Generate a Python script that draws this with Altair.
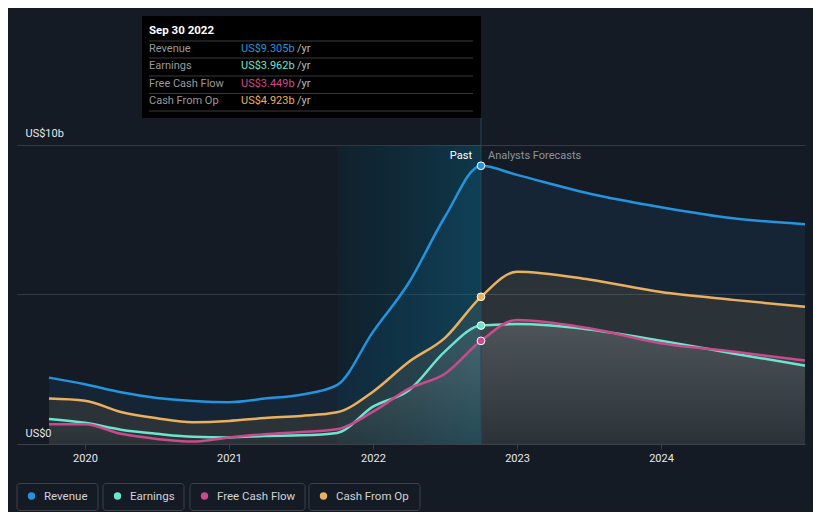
import altair as alt
import pandas as pd

# ---------------- data ----------------
SERIES = ["Revenue", "Earnings", "Free Cash Flow", "Cash From Op"]

past_t = [2019.75, 2020.0, 2020.25, 2020.5, 2020.75, 2021.0, 2021.25,
          2021.5, 2021.75, 2022.0, 2022.25, 2022.5, 2022.75]
fc_t = [2023.0, 2023.5, 2024.0, 2024.5, 2025.0]

revenue_past = [2.22, 2.00, 1.73, 1.54, 1.44, 1.40, 1.52, 1.65, 1.97, 3.75, 5.40, 7.60, 9.305]
earnings_past = [0.84, 0.71, 0.48, 0.34, 0.24, 0.22, 0.27, 0.29, 0.37, 1.25, 1.80, 3.10, 3.962]
fcf_past = [0.66, 0.66, 0.34, 0.17, 0.08, 0.22, 0.33, 0.40, 0.49, 1.08, 1.85, 2.35, 3.449]
cfo_past = [1.52, 1.45, 1.07, 0.86, 0.73, 0.77, 0.87, 0.94, 1.06, 1.75, 2.75, 3.55, 4.923]

revenue_fc = [9.00, 8.38, 7.92, 7.55, 7.35]
earnings_fc = [4.01, 3.83, 3.45, 3.03, 2.62]
fcf_fc = [4.15, 3.87, 3.37, 3.09, 2.79]
cfo_fc = [5.76, 5.50, 5.08, 4.82, 4.59]

PAST_DATE = 2022.75
PAST_LABEL = "Sep 30 2022"
HIGHLIGHT_START = 2021.75
YEAR_TICKS = [2020, 2021, 2022, 2023, 2024]
Y_TICKS = [0, 5, 10]

# ---------------- styles / layout ----------------
COLORS = {"Revenue": "#2394df", "Earnings": "#6ce5cc",
          "Free Cash Flow": "#c94b8d", "Cash From Op": "#ebb05e"}
BG = "#151b25"
W, H = 788, 428
X_DOMAIN = [2019.528, 2025.0]
Y_MAX = 14.314
FONT = "Roboto"

series_data = {
    "Revenue": revenue_past + revenue_fc,
    "Earnings": earnings_past + earnings_fc,
    "Free Cash Flow": fcf_past + fcf_fc,
    "Cash From Op": cfo_past + cfo_fc,
}
all_t = past_t + fc_t
rows = []
for s in SERIES:
    for t, v in zip(all_t, series_data[s]):
        rows.append({"t": t, "v": v, "series": s})
df = pd.DataFrame(rows)

xscale = alt.Scale(domain=X_DOMAIN, nice=False, zero=False)
yscale = alt.Scale(domain=[0, Y_MAX], nice=False, zero=True)
xaxis = alt.Axis(values=YEAR_TICKS, format="d", grid=False, domainColor="#3b4049",
                 tickColor="#3b4049", tickSize=5, labelColor="#e8e8e8", labelFontSize=11,
                 labelFont=FONT, labelPadding=3, title="")
yaxis = alt.Axis(values=Y_TICKS,
                 labelExpr="datum.value == 0 ? 'US$0' : datum.value == 10 ? 'US$10b' : ''",
                 grid=True, gridColor="#343a43", domain=False, ticks=False, tickSize=0,
                 labelAlign="left", labelPadding=-8, labelBaseline="alphabetic", labelOffset=-8,
                 labelColor="#e8e8e8", labelFontSize=11, labelFont=FONT,
                 minExtent=0, maxExtent=0, title="")


def X(f):
    return alt.X(f, type="quantitative", scale=xscale, axis=xaxis)


def Y(f):
    return alt.Y(f, type="quantitative", scale=yscale, axis=yaxis)


layers = []

# highlight region of the last past year
hl_df = pd.DataFrame({"x0": [HIGHLIGHT_START], "x1": [PAST_DATE], "y0": [0], "y1": [10]})
hl_grad = alt.Gradient(gradient="linear", x1=0, x2=1, y1=0, y2=0, stops=[
    alt.GradientStop(color="rgba(0,50,66,0.25)", offset=0),
    alt.GradientStop(color="rgba(0,118,150,0.32)", offset=1)])
layers.append(alt.Chart(hl_df).mark_rect(color=hl_grad).encode(
    x=X("x0"), x2="x1", y=Y("y0"), y2="y1"))

# areas
white_grad = alt.Gradient(gradient="linear", x1=1, x2=1, y1=0, y2=1, stops=[
    alt.GradientStop(color="rgba(255,255,255,0.085)", offset=0),
    alt.GradientStop(color="rgba(255,255,255,0.0)", offset=1)])
area_style = {
    "Revenue": dict(color=COLORS["Revenue"], opacity=0.09),
    "Cash From Op": dict(color=COLORS["Cash From Op"], opacity=0.10),
    "Earnings": dict(color=white_grad),
    "Free Cash Flow": dict(color=white_grad),
}
for s in ["Revenue", "Cash From Op", "Earnings", "Free Cash Flow"]:
    layers.append(alt.Chart(df).transform_filter(alt.datum.series == s)
                  .mark_area(interpolate="monotone", **area_style[s])
                  .encode(x=X("t"), y=Y("v")))

# lines
for s in ["Revenue", "Cash From Op", "Earnings", "Free Cash Flow"]:
    layers.append(alt.Chart(df).transform_filter(alt.datum.series == s)
                  .mark_line(interpolate="monotone", color=COLORS[s], strokeWidth=2.5)
                  .encode(x=X("t"), y=Y("v")))

# vertical "now" line
now_df = pd.DataFrame({"t": [PAST_DATE]})
layers.append(alt.Chart(now_df).mark_rule(color="#27475a", strokeWidth=1).encode(
    x=X("t"), y=alt.value(102), y2=alt.value(H)))

# points at the past/forecast boundary
pts = df[df["t"] == PAST_DATE].copy()
layers.append(alt.Chart(pts).mark_point(filled=True, size=60, stroke="#ffffff",
                                         strokeWidth=1, opacity=1, fillOpacity=1).encode(
    x=X("t"), y=Y("v"),
    fill=alt.Color("series:N", scale=alt.Scale(domain=list(COLORS), range=list(COLORS.values())),
                   legend=None)))

# Past / Analysts Forecasts labels
layers.append(alt.Chart(now_df).mark_text(text="Past", align="right", baseline="middle",
                                           dx=-9, color="#ffffff", fontSize=11, font=FONT).encode(
    x=X("t"), y=alt.value(140)))
layers.append(alt.Chart(now_df).mark_text(text="Analysts Forecasts", align="left",
                                           baseline="middle", dx=7, color="#8d939b",
                                           fontSize=11, font=FONT).encode(
    x=X("t"), y=alt.value(140)))

# tooltip box
one = pd.DataFrame({"a": [0]})
layers.append(alt.Chart(one).mark_rect(color="#000000").encode(
    x=alt.value(125), x2=alt.value(464), y=alt.value(0), y2=alt.value(102)))
layers.append(alt.Chart(one).mark_text(text=PAST_LABEL, align="left", baseline="middle",
                                       color="#ffffff", fontSize=11.5, fontWeight="bold",
                                       font=FONT).encode(x=alt.value(132), y=alt.value(15)))
sep_df = pd.DataFrame({"yy": [25, 42, 60, 77.5, 95]})
layers.append(alt.Chart(sep_df).mark_rule(color="#3a3a3a", strokeWidth=1).encode(
    y=alt.Y("yy:Q", scale=None), x=alt.value(132), x2=alt.value(456)))

tt_rows = []
row_y = [33, 50.3, 68.3, 85.3]
for i, s in enumerate(SERIES):
    v = series_data[s][len(past_t) - 1]
    tt_rows.append({"label": s, "val": f"US${v:.3f}b", "col": COLORS[s], "yy": row_y[i]})
tt_df = pd.DataFrame(tt_rows)
layers.append(alt.Chart(tt_df).mark_text(align="left", baseline="middle", fontSize=11,
                                         font=FONT, color="#9a9a9a").encode(
    x=alt.value(132), y=alt.Y("yy:Q", scale=None), text="label:N"))
layers.append(alt.Chart(tt_df).mark_text(align="left", baseline="middle", fontSize=11,
                                         font=FONT).encode(
    x=alt.value(224), y=alt.Y("yy:Q", scale=None), text="val:N",
    color=alt.Color("col:N", scale=None)))
layers.append(alt.Chart(tt_df).mark_text(align="left", baseline="middle", fontSize=11,
                                         font=FONT, color="#bdbdbd", text="/yr").encode(
    x=alt.value(280), y=alt.Y("yy:Q", scale=None)))

# custom legend
leg_x0 = [0, 86, 173, 292]
leg_x1 = [81, 167, 288, 403]
leg_rows = []
for i, s in enumerate(SERIES):
    leg_rows.append({"series": s, "bx0": leg_x0[i], "bx1": leg_x1[i],
                     "cx": leg_x0[i] + 14.5, "tx": leg_x0[i] + 27, "col": COLORS[s]})
leg_df = pd.DataFrame(leg_rows)
layers.append(alt.Chart(leg_df).mark_rect(fill=BG, stroke="#3c414a", strokeWidth=1,
                                          cornerRadius=3).encode(
    x=alt.X("bx0:Q", scale=None), x2="bx1", y=alt.value(467.5), y2=alt.value(494.5)))
layers.append(alt.Chart(leg_df).mark_circle(size=55, opacity=1).encode(
    x=alt.X("cx:Q", scale=None), y=alt.value(480),
    color=alt.Color("col:N", scale=None)))
layers.append(alt.Chart(leg_df).mark_text(align="left", baseline="middle", fontSize=11.5,
                                          font=FONT, color="#d0d3d8").encode(
    x=alt.X("tx:Q", scale=None), y=alt.value(480.5), text="series:N"))

chart = alt.layer(*layers).properties(
    width=W, height=H,
    autosize=alt.AutoSizeParams(type="none"),
    padding={"left": 9, "top": 8, "right": 8, "bottom": 68},
).configure(background=BG).configure_view(stroke="transparent")

chart.save("out.html", embed_options={"renderer": "svg", "actions": False})
